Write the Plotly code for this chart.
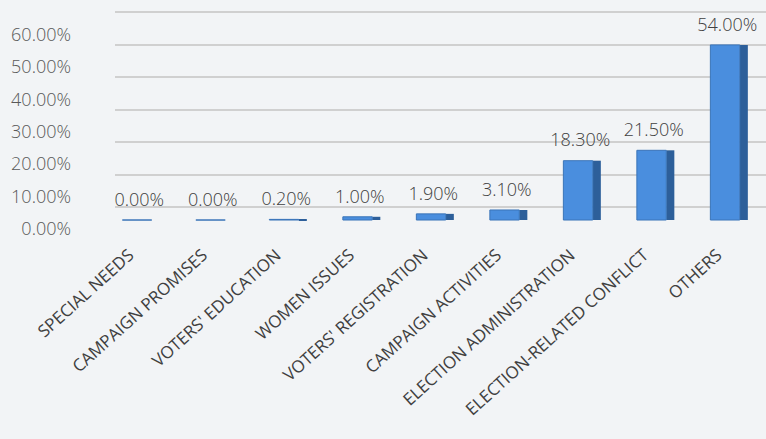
import plotly.graph_objects as go

categories = ["SPECIAL NEEDS", "CAMPAIGN PROMISES", "VOTERS' EDUCATION", "WOMEN ISSUES",
              "VOTERS' REGISTRATION", "CAMPAIGN ACTIVITIES", "ELECTION ADMINISTRATION",
              "ELECTION-RELATED CONFLICT", "OTHERS"]
values = [0.0, 0.0, 0.002, 0.010, 0.019, 0.031, 0.183, 0.215, 0.540]
tick_vals = [0, 0.1, 0.2, 0.3, 0.4, 0.5, 0.6]
tick_text = ["0.00%", "10.00%", "20.00%", "30.00%", "40.00%", "50.00%", "60.00%"]
label_text = ["0.00%", "0.00%", "0.20%", "1.00%", "1.90%", "3.10%", "18.30%", "21.50%", "54.00%"]

FONT = "Open Sans"
# pseudo-3D: back wall (grid), front plane (bars), label plane share one plot area
# but use shifted ranges
Y_GRID = [-0.0769, 0.62]
Y_BARS = [-0.0369, 0.66]
Y_LABS = [-0.0092, 0.6877]
X_RANGE = [-0.33, 8.527]

fig = go.Figure()
# invisible anchor traces for grid axis and label axis
fig.add_trace(go.Scatter(
    x=categories, y=values, xaxis="x", yaxis="y", mode="markers",
    marker=dict(opacity=0), hoverinfo="skip", showlegend=False,
))
fig.add_trace(go.Scatter(
    x=categories, y=values, xaxis="x", yaxis="y3", mode="markers",
    marker=dict(opacity=0), hoverinfo="skip", showlegend=False,
))
# side face (darker)
fig.add_trace(go.Bar(
    x=categories, y=values, width=0.11, offset=0.17, xaxis="x", yaxis="y2",
    marker=dict(color="#2d5f9a", line=dict(width=0)),
    hoverinfo="skip", showlegend=False,
))
# front face
fig.add_trace(go.Bar(
    x=categories, y=values, width=0.4, offset=-0.23, xaxis="x", yaxis="y2",
    marker=dict(color="#4a8ede", line=dict(color="#3a74b8", width=1)),
    showlegend=False,
))
# data labels
fig.add_trace(go.Scatter(
    x=categories, y=values, mode="markers+text", xaxis="x", yaxis="y2",
    marker=dict(size=14, opacity=0),
    text=label_text, textposition="top center", cliponaxis=False,
    textfont=dict(family=FONT, size=18, color="#404040", weight=300),
    hoverinfo="skip", showlegend=False,
))

fig.update_layout(
    width=766, height=439,
    margin=dict(l=115, r=0, t=5.5, b=207),
    paper_bgcolor="#f2f4f6",
    plot_bgcolor="rgba(0,0,0,0)",
    barmode="overlay",
    font=dict(family=FONT, color="#595959"),
    xaxis=dict(
        range=X_RANGE,
        tickangle=-42,
        tickfont=dict(family=FONT, size=17, color="#404040"),
        showgrid=False, showline=False, zeroline=False,
        ticks="", ticklabelstandoff=9, ticklabelshift=-10,
    ),
    yaxis=dict(
        range=Y_GRID,
        tickvals=tick_vals,
        showgrid=True, gridcolor="#d0d0d0", gridwidth=2,
        zeroline=True, zerolinecolor="#d0d0d0", zerolinewidth=2,
        showline=False, showticklabels=False, ticks="",
    ),
    yaxis2=dict(
        range=Y_BARS, overlaying="y",
        showgrid=False, zeroline=False, showline=False, showticklabels=False,
    ),
    yaxis3=dict(
        range=Y_LABS, overlaying="y", side="left",
        tickvals=tick_vals, ticktext=tick_text,
        tickfont=dict(family=FONT, size=18, color="#595959", weight=300),
        showgrid=False, zeroline=False, showline=False,
        ticks="", ticklabelstandoff=43,
    ),
)

fig.write_html("out.html", config={"displayModeBar": False},
               post_script="document.body.style.margin='0';document.body.style.overflow='hidden';")
